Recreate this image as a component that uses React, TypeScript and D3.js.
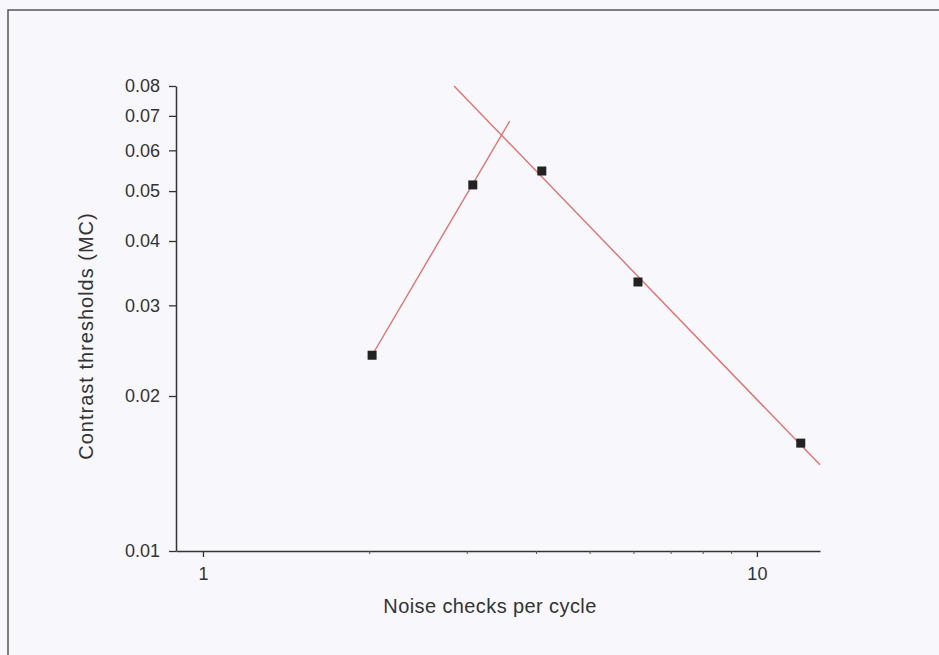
import React, { useEffect, useRef } from 'react';
import * as d3 from 'd3';

// noise checks per cycle (x) and contrast thresholds (y)
const checks = [2.02, 3.07, 4.09, 6.1, 12.0];
const thresholds = [0.024, 0.0514, 0.0547, 0.0333, 0.0162];

// two fitted lines (end points)
const fitRising: [number, number][] = [[2.02, 0.024], [3.58, 0.0684]];
const fitFalling: [number, number][] = [[2.84, 0.08], [13.0, 0.0147]];

const xTicks = [1, 10];
const xMinor = [2, 3, 4, 5, 6, 7, 8, 9];
const yTicks = [0.01, 0.02, 0.03, 0.04, 0.05, 0.06, 0.07, 0.08];

const W = 939;
const H = 655;
const FONT = 'Liberation Sans, Arial, sans-serif';

function App() {
  const ref = useRef<SVGSVGElement | null>(null);

  useEffect(() => {
    const svg = d3.select(ref.current);
    svg.selectAll('*').remove();

    const x = d3.scaleLog().domain([0.894, 13.0]).range([176, 820]);
    const y = d3.scaleLog().domain([0.01, 0.08]).range([551, 86]);

    svg.append('rect').attr('width', W).attr('height', H).attr('fill', '#f8f8fc');

    // outer frame (left + top only are in view)
    svg.append('path')
      .attr('d', `M8,${H}V10H${W}`)
      .attr('fill', 'none')
      .attr('stroke', '#555')
      .attr('stroke-width', 1.5);

    // y axis
    const yAxis = svg.append('g')
      .attr('transform', `translate(${x.range()[0]},0)`)
      .call(d3.axisLeft(y).tickValues(yTicks).tickFormat(d3.format('.2f')).tickSizeInner(7).tickSizeOuter(0).tickPadding(9));
    yAxis.select('.domain').attr('stroke', '#333').attr('stroke-width', 1.5);
    yAxis.selectAll('.tick line').attr('stroke', '#333').attr('stroke-width', 1.3);
    yAxis.selectAll('.tick text').attr('fill', '#333').style('font-size', '18px').style('font-family', FONT);

    // x axis
    const xAxis = svg.append('g')
      .attr('transform', `translate(0,${y.range()[0]})`)
      .call(d3.axisBottom(x).tickValues(xTicks).tickFormat(d3.format('d')).tickSizeInner(6).tickSizeOuter(0).tickPadding(10));
    xAxis.select('.domain').attr('stroke', '#333').attr('stroke-width', 1.5);
    xAxis.selectAll('.tick line').attr('stroke', '#333').attr('stroke-width', 1.3);
    xAxis.selectAll('.tick text').attr('fill', '#333').style('font-size', '18px').style('font-family', FONT);

    xAxis.selectAll('.minor')
      .data(xMinor)
      .join('line')
      .attr('class', 'minor')
      .attr('x1', d => x(d))
      .attr('x2', d => x(d))
      .attr('y1', 0)
      .attr('y2', 3)
      .attr('stroke', '#555')
      .attr('stroke-width', 1);

    // axis titles
    svg.append('text')
      .attr('x', 490)
      .attr('y', 613)
      .attr('text-anchor', 'middle')
      .attr('fill', '#333')
      .style('font-size', '20px')
      .style('letter-spacing', '0.4px')
      .style('font-family', FONT)
      .text('Noise checks per cycle');

    svg.append('text')
      .attr('transform', 'translate(93,336) rotate(-90)')
      .attr('text-anchor', 'middle')
      .attr('fill', '#333')
      .style('font-size', '20px')
      .style('letter-spacing', '1px')
      .style('font-family', FONT)
      .text('Contrast  thresholds (MC)');

    // fitted lines
    const line = d3.line<[number, number]>().x(d => x(d[0])).y(d => y(d[1]));
    svg.selectAll('.fit')
      .data([fitRising, fitFalling])
      .join('path')
      .attr('class', 'fit')
      .attr('d', d => line(d))
      .attr('fill', 'none')
      .attr('stroke', '#e07272')
      .attr('stroke-width', 1.4);

    // data markers
    const s = 9;
    svg.selectAll('.pt')
      .data(checks.map((c, i) => [c, thresholds[i]]))
      .join('rect')
      .attr('class', 'pt')
      .attr('x', d => x(d[0]) - s / 2)
      .attr('y', d => y(d[1]) - s / 2)
      .attr('width', s)
      .attr('height', s)
      .attr('fill', '#222');
  }, []);

  return (
    <svg ref={ref} width={W} height={H} style={{ position: 'absolute', left: 0, top: 0 }} />
  );
}

export default App;
